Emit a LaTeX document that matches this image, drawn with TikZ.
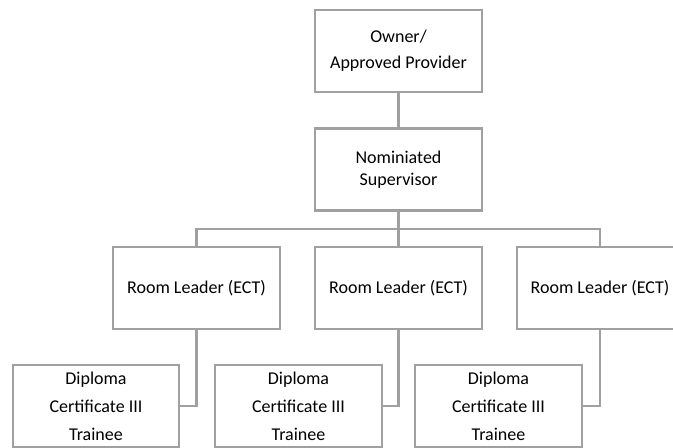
\documentclass[tikz,border=0pt]{standalone}
\usepackage{fontspec}
\setmainfont{Carlito}
\usepackage{tikz}
\definecolor{linegray}{RGB}{160,160,160}

\begin{document}
\begin{tikzpicture}[
    x=0.75pt, y=-0.75pt,
    % Define a style for the boxes of the chart
    box/.style={rectangle, draw=linegray, line width=1.6pt, fill=white, minimum width=125pt, minimum height=61.5pt, align=center, inner sep=0pt, font=\fontsize{13.5pt}{19.5pt}\selectfont},
    % and one for the lines between them
    link/.style={draw=linegray, line width=1.6pt}
]
    \clip (0,0) rectangle (673,448);

    % Top of the chart
    \node[box] (owner) at (398.5,51) {Owner/\\Approved Provider};
    \node[box, font=\fontsize{13.5pt}{16.5pt}\selectfont] (nom) at (398.5,169.5) {Nominiated\\Supervisor};
    \coordinate (bar) at (398.5,229);

    % Room leaders and their staff, placed with a foreach loop
    \foreach \i/\x/\s in {1/196.5/96, 2/398.5/298.5, 3/600/498.5} {
        \node[box] (room\i) at (\x,288) {Room Leader (ECT)};
        \node[box, font=\fontsize{13.5pt}{21pt}\selectfont] (staff\i) at (\s,406) {Diploma\\Certificate III\\Trainee};
        \draw[link] (room\i.south) |- (staff\i.east);
    }

    \draw[link] (owner) -- (nom);
    \draw[link] (nom) -- (room2);
    \draw[link] (room1.north) |- (bar) -| (room3.north);
\end{tikzpicture}
\end{document}
